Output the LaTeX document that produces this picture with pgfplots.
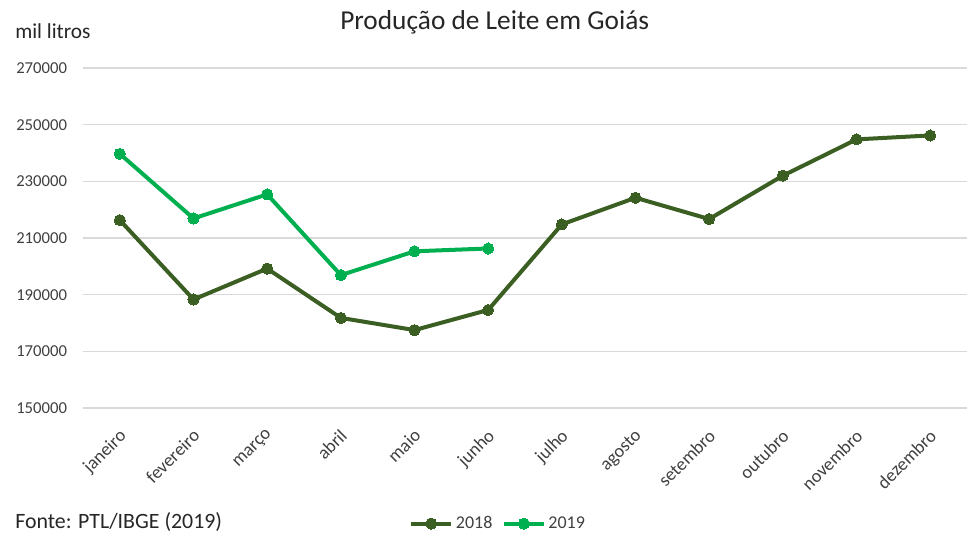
\documentclass[border=0pt]{standalone}
\usepackage{fontspec}
\setmainfont{Carlito}
\usepackage{pgfplots}
\pgfplotsset{compat=1.18}
\definecolor{cA}{HTML}{3B5E22}
\definecolor{cB}{HTML}{00B050}
\definecolor{gridc}{HTML}{D9D9D9}
\definecolor{txt}{HTML}{404040}
\begin{document}
\begin{tikzpicture}
\useasboundingbox (0,0) rectangle (727.5pt,399pt);
\node[anchor=base, font=\fontsize{20.5}{24}\selectfont, text=black!85] at (371pt,376.5pt) {Produção de Leite em Goiás};
\node[anchor=base west, inner sep=0pt, font=\fontsize{16}{18}\selectfont, text=black!85] at (11.25pt,370pt) {mil litros};
\node[anchor=base west, inner sep=0pt, font=\fontsize{16.4}{19}\selectfont, text=black!85] at (11.25pt,3pt) {Fonte: PTL/IBGE (2019)};
\begin{axis}[
  at={(62.25pt,93pt)}, anchor=south west,
  scale only axis, width=663pt, height=255pt,
  xmin=-0.5, xmax=11.5, ymin=150000, ymax=270000,
  ytick={150000,170000,190000,210000,230000,250000,270000},
  yticklabels={150000,170000,190000,210000,230000,250000,270000},
  xtick={0,...,11},
  xticklabels={janeiro,fevereiro,março,abril,maio,junho,julho,agosto,setembro,outubro,novembro,dezembro},
  axis line style={draw=none},
  major tick length=0pt,
  ymajorgrids, grid style={gridc, line width=0.8pt},
  scaled y ticks=false,
  yticklabel style={font=\fontsize{12.5}{14}\selectfont, text=txt, anchor=east, xshift=-8.5pt},
  xticklabel style={font=\fontsize{13.8}{16}\selectfont, text=txt, rotate=45, anchor=north east, xshift=-8.1pt, yshift=-6.2pt},
  legend style={at={(0.47,-0.34)}, anchor=center, draw=none, fill=none, font=\fontsize{13.5}{15}\selectfont, text=txt, legend columns=2, /tikz/every even column/.append style={column sep=5pt}, inner sep=0pt},
  legend image code/.code={\draw[mark repeat=2,mark phase=2,#1] plot coordinates {(0pt,0pt) (15pt,0pt) (30pt,0pt)};},
  every axis plot/.append style={line width=3pt, mark=*, mark size=4.2pt},
]
\addplot[color=cA, mark options={fill=cA, line width=0pt}] coordinates {
(0,216300) (1,188300) (2,199200) (3,181800) (4,177500) (5,184600)
(6,214800) (7,224200) (8,216700) (9,232000) (10,244800) (11,246200)};
\addlegendentry{2018}
\addplot[color=cB, mark options={fill=cB, line width=0pt}] coordinates {
(0,239700) (1,216900) (2,225400) (3,196900) (4,205300) (5,206300)};
\addlegendentry{2019}
\end{axis}
\end{tikzpicture}
\end{document}
